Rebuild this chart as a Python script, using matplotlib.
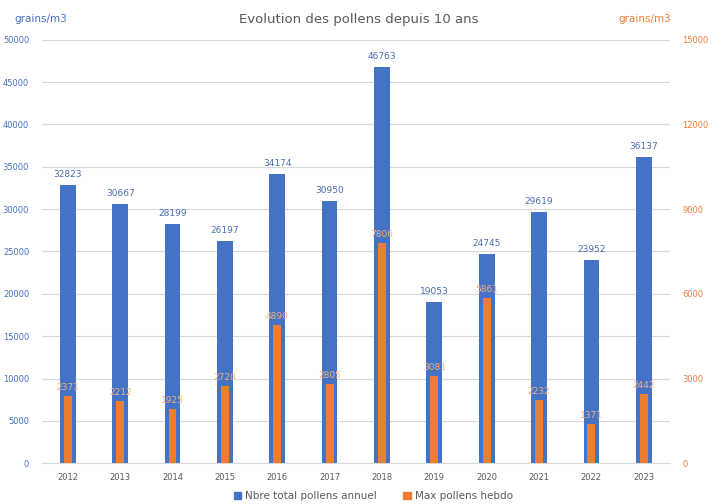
import matplotlib
matplotlib.use("Agg")
import matplotlib.pyplot as plt
import numpy as np

years = ["2012", "2013", "2014", "2015", "2016", "2017", "2018", "2019", "2020", "2021", "2022", "2023"]
total_annuel = [32823, 30667, 28199, 26197, 34174, 30950, 46763, 19053, 24745, 29619, 23952, 36137]
max_hebdo = [2371, 2212, 1925, 2720, 4890, 2805, 7806, 3081, 5861, 2232, 1371, 2442]

blue = "#4472C4"
orange = "#ED7D31"

fig = plt.figure(figsize=(7.18, 5.04), dpi=100)
ax = fig.add_axes([0.058, 0.081, 0.875, 0.84])
ax2 = ax.twinx()

x = np.arange(len(years))
ax.bar(x, total_annuel, width=0.3, color=blue, zorder=2)
ax2.bar(x, max_hebdo, width=0.15, color=orange, zorder=3)

ax.set_ylim(0, 50000)
ax2.set_ylim(0, 15000)
ax.set_xlim(-0.5, len(years) - 0.5)
ax.set_yticks(np.arange(0, 50001, 5000))
ax2.set_yticks(np.arange(0, 15001, 3000))
ax.set_xticks(x)
ax.set_xticklabels(years)
ax.grid(axis="y", color="#D9D9D9", linewidth=0.8, zorder=0)
ax.set_axisbelow(True)

for a in (ax, ax2):
    for s in a.spines.values():
        s.set_visible(False)
ax.spines["bottom"].set_visible(True)
ax.spines["bottom"].set_color("#D9D9D9")

ax.tick_params(axis="y", length=0, labelsize=6, labelcolor=blue, pad=9)
ax2.tick_params(axis="y", length=0, labelsize=6, labelcolor=orange, pad=9)
ax.tick_params(axis="x", length=0, labelsize=6, labelcolor="#595959", pad=7)

for xi, v in zip(x, total_annuel):
    ax.text(xi, v + 700, str(v), ha="center", va="bottom", fontsize=6.5, color="#4A6DB0", zorder=5)
for xi, v in zip(x, max_hebdo):
    ax2.text(xi, v + 150, str(v), ha="center", va="bottom", fontsize=6.5, color="#F4B183", zorder=5)

fig.text(0.5, 0.962, "Evolution des pollens depuis 10 ans", ha="center", va="center", fontsize=9.5, color="#595959")
fig.text(0.02, 0.962, "grains/m3", ha="left", va="center", fontsize=7.5, color=blue)
fig.text(0.935, 0.962, "grains/m3", ha="right", va="center", fontsize=7.5, color=orange)

from matplotlib.patches import Patch
handles = [Patch(color=blue, label="Nbre total pollens annuel"), Patch(color=orange, label="Max pollens hebdo")]
fig.legend(handles=handles, loc="center", bbox_to_anchor=(0.52, 0.015), ncol=2, frameon=False,
           fontsize=7.5, handlelength=0.7, handleheight=0.7, columnspacing=2.5, handletextpad=0.4,
           labelcolor="#595959")

fig.savefig("out.png", dpi=100)
